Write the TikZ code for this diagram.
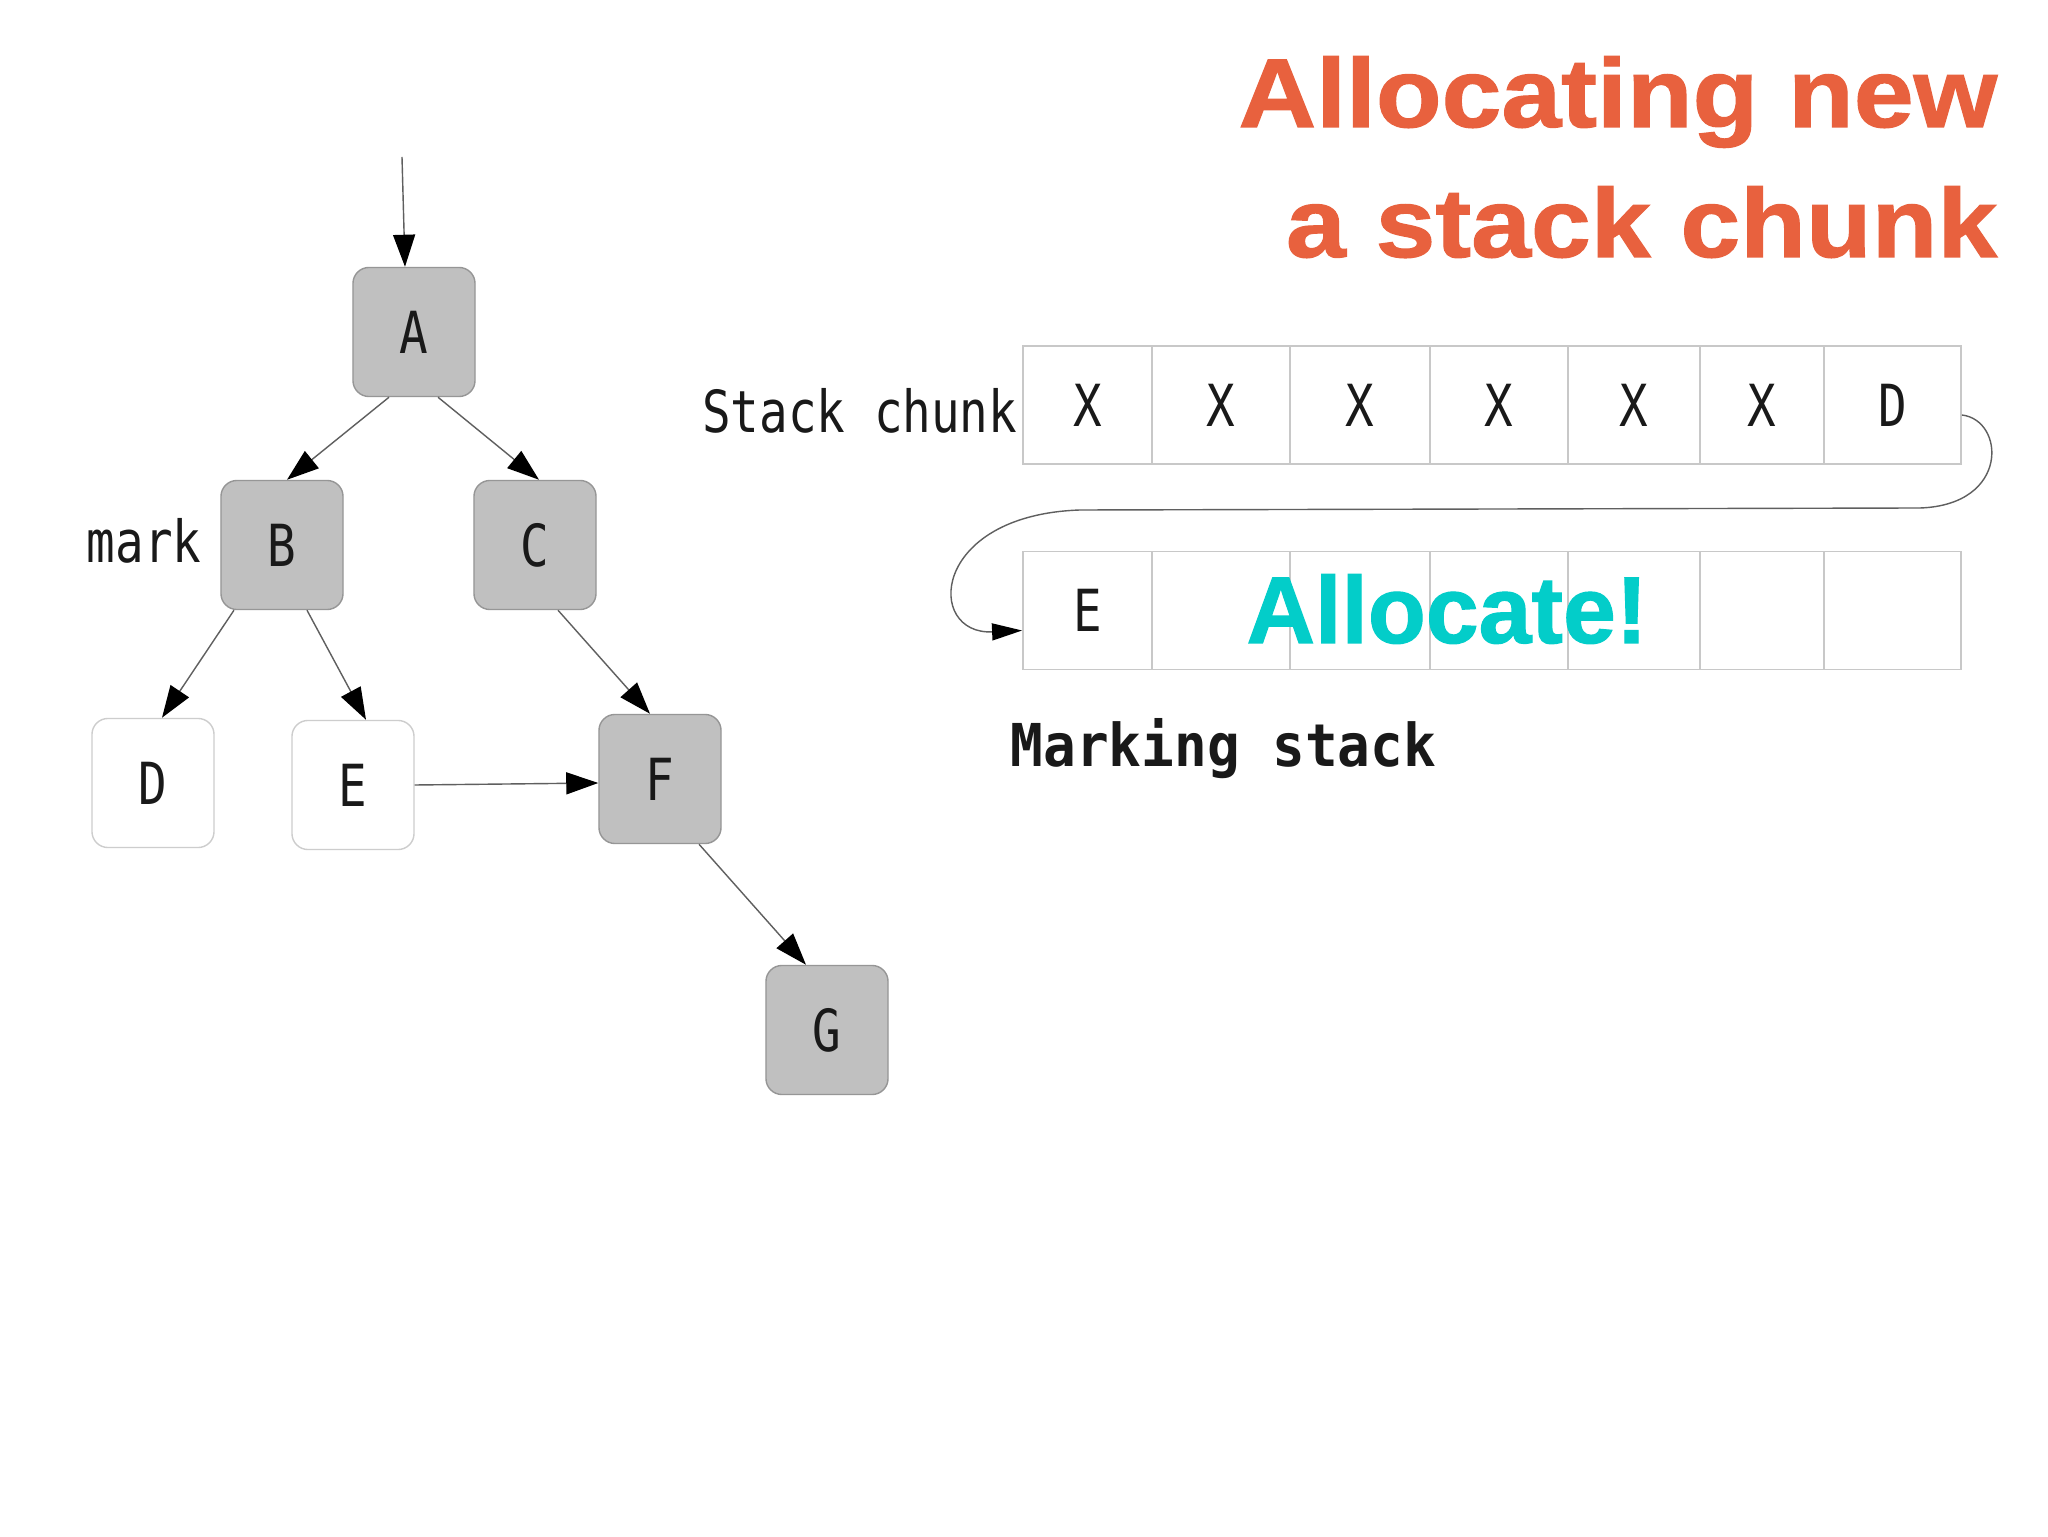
\documentclass[tikz,border=0pt]{standalone}
\usepackage{fontspec}
\usetikzlibrary{arrows.meta,calc}
\newfontfamily\monof[FakeStretch=0.82]{DejaVu Sans Mono}
\newfontfamily\monob[FakeStretch=0.92]{DejaVu Sans Mono Bold}
\newfontfamily\titlef[FakeStretch=1.1,FakeBold=1.2]{Liberation Sans Bold}
\newfontfamily\allocf[FakeBold=1.2]{Liberation Sans Bold}
\definecolor{ttlorange}{RGB}{232,97,62}
\definecolor{alloccyan}{RGB}{3,205,201}
\definecolor{nodegray}{RGB}{192,192,192}
\definecolor{nodeborder}{RGB}{150,150,150}
\definecolor{lightborder}{RGB}{205,205,205}
\definecolor{cellborder}{RGB}{200,200,200}
\definecolor{edgegray}{RGB}{95,95,95}
\definecolor{inkc}{RGB}{25,25,25}
\tikzset{
  treenode/.style={rounded corners=0.16cm, minimum width=1.22cm, minimum height=1.29cm,
    inner sep=0pt, font=\monof\fontsize{16.5}{18}\selectfont, text=inkc},
  graynode/.style={treenode, fill=nodegray, draw=nodeborder, line width=0.4pt},
  whitenode/.style={treenode, fill=white, draw=lightborder, line width=0.4pt},
  bigtip/.style={-{Triangle[length=0.32cm,width=0.22cm,color=black,fill=black]}},
  edge/.style={draw=edgegray, line width=0.4pt, bigtip},
  cellbox/.style={draw=cellborder, line width=0.5pt, inner sep=0pt, minimum height=1.18cm,
    font=\monof\fontsize{16.5}{18}\selectfont, text=inkc},
  monolabel/.style={inner sep=0pt, font=\monof\fontsize{16.5}{18}\selectfont, text=inkc},
}
\begin{document}
\begin{tikzpicture}[x=0.01cm, y=-0.01cm]
\useasboundingbox[fill=white] (0,0) rectangle (2048,1537);

% title
\node[anchor=base east, inner sep=0pt, text=ttlorange, font=\titlef\fontsize{27.8}{30}\selectfont] (t1) at (1998,127) {Allocating new};
\node[anchor=base east, inner sep=0pt, text=ttlorange, font=\titlef\fontsize{27.8}{30}\selectfont] (t2) at (1998,257) {a stack chunk};

% tree
\node[graynode] (A) at (414,332) {A};
\node[graynode] (B) at (282,545) {B};
\node[graynode] (C) at (535,545) {C};
\node[whitenode] (D) at (153,783) {D};
\node[whitenode] (E) at (353,785) {E};
\node[graynode] (F) at (660,779) {F};
\node[graynode] (G) at (827,1030) {G};
\node[monolabel, anchor=base east] (mark) at (202,563) {mark};

\coordinate (entry) at (402,157);
\draw[edge] (entry) -- ([xshift=-0.09cm]A.north);
\draw[edge] ([xshift=-0.25cm]A.south) -- ([xshift=0.05cm]B.north);
\draw[edge] ([xshift=0.24cm]A.south) -- ([xshift=0.04cm]C.north);
\draw[edge] ([xshift=-0.48cm]B.south) -- ([xshift=0.09cm]D.north);
\draw[edge] ([xshift=0.25cm]B.south) -- ([xshift=0.13cm]E.north);
\draw[edge] ([xshift=0.23cm]C.south) -- ([xshift=-0.10cm]F.north);
\draw[edge] (E.east) -- ([yshift=-0.04cm]F.west);
\draw[edge] ([xshift=0.39cm]F.south) -- ([xshift=-0.21cm]G.north);

% stack chunk row
\node[monolabel, anchor=base east] (sc) at (1018,433) {Stack chunk};
\node[cellbox, minimum width=1.29cm] (c1) at (1087.5,405) {X};
\node[cellbox, minimum width=1.38cm] (c2) at (1221,405) {X};
\node[cellbox, minimum width=1.40cm] (c3) at (1360,405) {X};
\node[cellbox, minimum width=1.38cm] (c4) at (1499,405) {X};
\node[cellbox, minimum width=1.32cm] (c5) at (1634,405) {X};
\node[cellbox, minimum width=1.24cm] (c6) at (1762,405) {X};
\node[cellbox, minimum width=1.37cm] (c7) at (1892.5,405) {D};

% marking stack row
\node[cellbox, minimum width=1.29cm] (m1) at (1087.5,610.5) {E};
\node[cellbox, minimum width=1.38cm] (m2) at (1221,610.5) {};
\node[cellbox, minimum width=1.40cm] (m3) at (1360,610.5) {};
\node[cellbox, minimum width=1.38cm] (m4) at (1499,610.5) {};
\node[cellbox, minimum width=1.32cm] (m5) at (1634,610.5) {};
\node[cellbox, minimum width=1.24cm] (m6) at (1762,610.5) {};
\node[cellbox, minimum width=1.37cm] (m7) at (1892.5,610.5) {};

\node[anchor=base, inner sep=0pt, text=alloccyan, font=\allocf\fontsize{27}{30}\selectfont] (alloc) at (1447,643) {Allocate!};

\node[anchor=base west, inner sep=0pt, text=inkc, font=\monob\fontsize{16.8}{19}\selectfont] (ms) at (1010,767) {Marking stack};

% curved link
\draw[draw=edgegray, line width=0.4pt, -{Triangle[length=0.3cm,width=0.17cm,color=black,fill=black]}]
  ([yshift=-0.10cm]c7.east) .. controls (2005,420) and (2010,505) .. (1920,508)
  -- (1080,510) .. controls (930,515) and (925,635) .. ([yshift=-0.20cm]m1.west);
\end{tikzpicture}
\end{document}
